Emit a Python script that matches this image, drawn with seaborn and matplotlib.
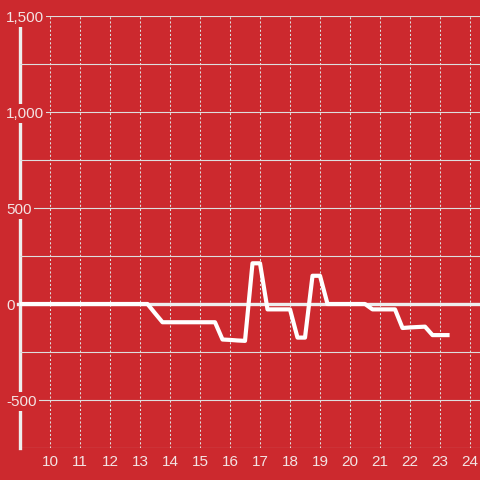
"""Intraday change line chart on red background"""

import numpy as np
import pandas as pd
import matplotlib
matplotlib.use("Agg")
import matplotlib.pyplot as plt
from matplotlib.ticker import FuncFormatter, MultipleLocator
import seaborn as sns

# time in hours (15 minute steps) and values
hours = [9.0, 9.25, 9.5, 9.75, 10.0, 10.25, 10.5, 10.75, 11.0, 11.25, 11.5, 11.75,
         12.0, 12.25, 12.5, 12.75, 13.0, 13.25, 13.5, 13.75, 14.0, 14.25, 14.5,
         14.75, 15.0, 15.25, 15.5, 15.75, 16.0, 16.25, 16.5, 16.75, 17.0, 17.25,
         17.5, 17.75, 18.0, 18.25, 18.5, 18.75, 19.0, 19.25, 19.5, 19.75, 20.0,
         20.25, 20.5, 20.75, 21.0, 21.25, 21.5, 21.75, 22.0, 22.25, 22.5, 22.75,
         23.0, 23.25]
values = [0, 0, 0, 0, 0, 0, 0, 0, 0, 0, 0, 0,
          0, 0, 0, 0, 0, 0, -48, -95, -95, -95, -95,
          -95, -95, -95, -95, -185, -187, -190, -192, 212, 212, -28,
          -28, -28, -28, -175, -175, 147, 147, 0, 0, 0, 0,
          0, 0, -28, -28, -28, -28, -125, -122, -120, -118, -162,
          -162, -162]

x_ticks = list(range(10, 25))

bg = "#cc292e"
fg = "#f3e3e3"
grid_c = "#dedede"

plt.rcParams["font.family"] = ["Liberation Sans", "DejaVu Sans"]

df = pd.DataFrame({"hour": hours, "value": values})

fig = plt.figure(figsize=(4.8, 4.8), dpi=100, facecolor=bg)
ax = fig.add_axes([20 / 480, 32 / 480, 460 / 480, 432 / 480])
ax.set_facecolor(bg)

sns.lineplot(data=df, x="hour", y="value", ax=ax, color="white",
             linewidth=3.0, zorder=4)

# zero line, starting a little left of the axis line
ax.axhline(0, xmin=-0.005, color="#eeeeee", linewidth=2.4, zorder=3, clip_on=False)

ax.set_xlim(9, 24.333)
ax.set_ylim(-750, 1500)

ax.set_xticks(x_ticks)
ax.yaxis.set_major_locator(MultipleLocator(500))
ax.yaxis.set_minor_locator(MultipleLocator(250))
ax.yaxis.set_major_formatter(FuncFormatter(lambda v, p: f"{int(v):,}"))

ax.grid(axis="y", which="both", color=grid_c, linewidth=0.8, linestyle="-")
ax.grid(axis="x", which="major", color=grid_c, linewidth=0.75, linestyle=(0, (2, 2)))

ax.tick_params(axis="x", length=0, pad=5, labelsize=11, labelcolor=fg)
ax.tick_params(axis="y", which="both", length=0, pad=10, labelsize=11, labelcolor=fg)
for lab in ax.get_yticklabels():
    lab.set_horizontalalignment("left")
    lab.set_bbox(dict(facecolor=bg, edgecolor="none", pad=1.5))

for side in ["top", "right", "bottom"]:
    ax.spines[side].set_visible(False)
ax.spines["left"].set_color("#eeeeee")
ax.spines["left"].set_linewidth(2.4)
ax.spines["left"].set_zorder(2)
ax.set_axisbelow(False)
ax.xaxis.set_zorder(1)
ax.yaxis.set_zorder(2.5)

ax.set_xlabel("")
ax.set_ylabel("")

fig.savefig("out.png", dpi=100, facecolor=bg)
